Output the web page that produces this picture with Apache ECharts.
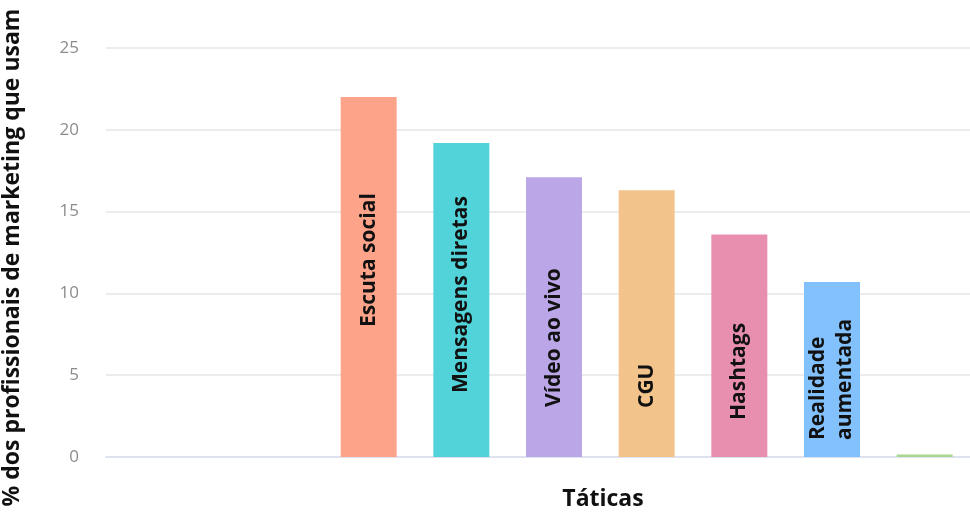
<!DOCTYPE html>
<html>
<head>
<meta charset="utf-8">
<script src="https://cdn.jsdelivr.net/npm/echarts@6/dist/echarts.min.js"></script>
<style>
html,body{margin:0;padding:0;background:#fff;}
#chart{width:970px;height:517px;}
</style>
</head>
<body>
<div id="chart"></div>
<script>
// ---- data ----
var categories = ['', ' ', 'Escuta social', 'Mensagens diretas', 'Vídeo ao vivo', 'CGU', 'Hashtags', 'Realidade aumentada', '  '];
var barLabels = ['', '', 'Escuta social', 'Mensagens diretas', 'Vídeo ao vivo', 'CGU', 'Hashtags', 'Realidade\naumentada', ''];
var values = [null, null, 22, 19.2, 17.1, 16.3, 13.6, 10.7, 0.15];
var yTicks = [0, 5, 10, 15, 20, 25];
var yAxisTitle = '% dos profissionais de marketing que usam';
var xAxisTitle = 'Táticas';

// ---- styles ----
var barColors = ['#fca38a', '#fca38a', '#fca38a', '#52d3d9', '#bba7e8', '#f2c48c', '#e88fb0', '#82c1fc', '#a8d88f'];
var labelDistances = [0, 0, 130, 64, 50, 49, 37, 17, 0];
var FONT = '"Open Sans", sans-serif';

var seriesData = values.map(function (v, i) {
  return {
    value: v,
    itemStyle: { color: barColors[i] },
    label: {
      show: !!barLabels[i],
      formatter: barLabels[i],
      position: 'insideBottom',
      rotate: 90,
      align: 'left',
      verticalAlign: 'middle',
      distance: labelDistances[i],
      color: '#111',
      fontFamily: FONT,
      fontWeight: 'bold',
      fontSize: 21,
      lineHeight: 27
    }
  };
});

var chart = echarts.init(document.getElementById('chart'), null, { renderer: 'canvas' });
chart.setOption({
  animation: false,
  backgroundColor: '#fff',
  grid: [
    { left: 106, right: 0, top: 48, bottom: 60, outerBoundsMode: 'none', containLabel: false },
    { left: 137, right: -1, top: 48, bottom: 60, outerBoundsMode: 'none', containLabel: false }
  ],
  xAxis: [
    {
      gridIndex: 0, type: 'category', data: [''],
      axisLine: { show: true, lineStyle: { color: '#dde2ee', width: 2 } },
      axisTick: { show: false }, axisLabel: { show: false }, splitLine: { show: false }
    },
    {
      gridIndex: 1, type: 'category', data: categories,
      axisLine: { show: false }, axisTick: { show: false }, axisLabel: { show: false }, splitLine: { show: false }
    }
  ],
  yAxis: [
    {
      gridIndex: 0, type: 'value', min: yTicks[0], max: yTicks[yTicks.length - 1], interval: 5,
      name: yAxisTitle, nameLocation: 'middle', nameRotate: 90, nameGap: 82,
      nameTextStyle: { color: '#111', fontFamily: FONT, fontWeight: 'bold', fontSize: 23, padding: [0, 10, 0, 0] },
      axisLine: { show: false }, axisTick: { show: false },
      axisLabel: { color: '#8c8c8c', fontFamily: FONT, fontSize: 17, margin: 27 },
      splitLine: { show: true, lineStyle: { color: '#ececec', width: 2 } }
    },
    {
      gridIndex: 1, type: 'value', min: yTicks[0], max: yTicks[yTicks.length - 1], interval: 5,
      axisLine: { show: false }, axisTick: { show: false }, axisLabel: { show: false }, splitLine: { show: false }
    }
  ],
  series: [
    {
      type: 'bar', xAxisIndex: 1, yAxisIndex: 1,
      barWidth: 56,
      data: seriesData,
      z: 3
    }
  ],
  graphic: [
    {
      type: 'text', x: 603, y: 499,
      style: {
        text: xAxisTitle, textAlign: 'center', textVerticalAlign: 'middle',
        font: 'bold 23px "Open Sans", sans-serif', fill: '#111'
      }
    }
  ]
});
</script>
</body>
</html>
